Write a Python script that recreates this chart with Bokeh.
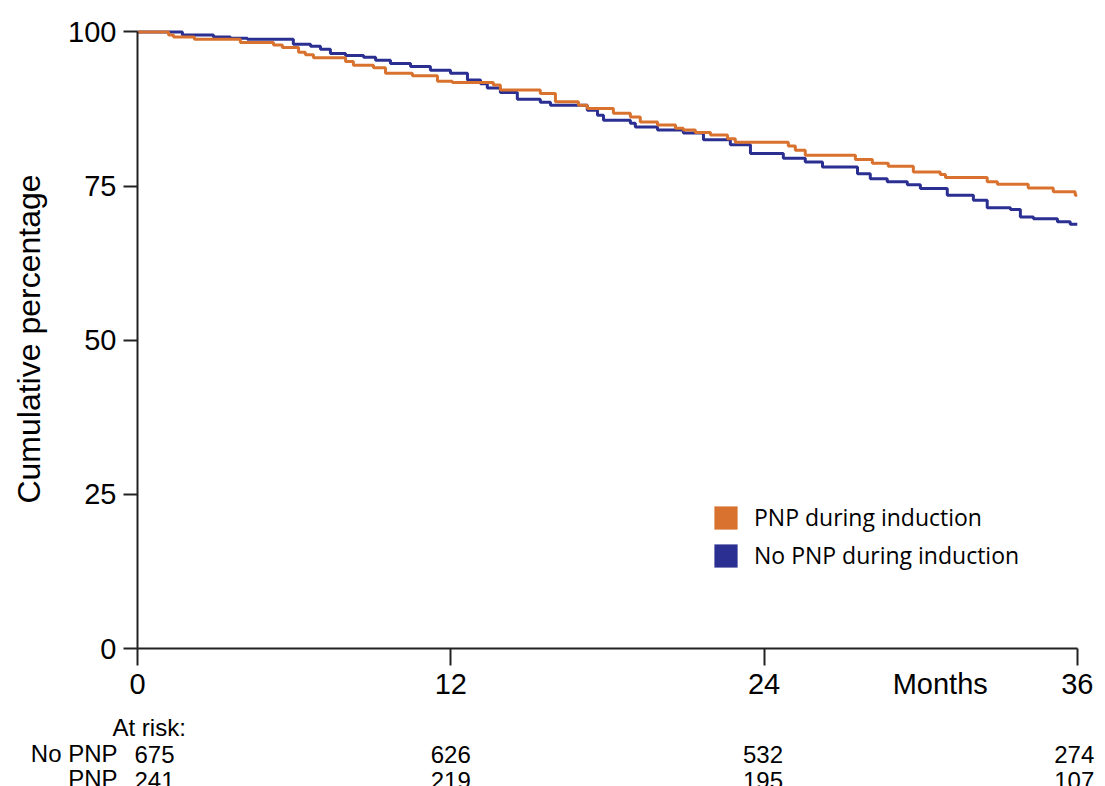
import numpy as np
from bokeh.plotting import figure
from bokeh.layouts import column
from bokeh.models import (Range1d, FixedTicker, Legend, LegendItem, ColumnDataSource)
from bokeh.core.properties import value
from bokeh.embed import file_html
from bokeh.resources import INLINE

# ---- data ----
pnp_months = [0, 1.19, 1.38, 2.18, 3.94, 5.21, 5.55, 6.17, 6.43, 6.74, 7.97, 8.27, 9.04, 9.50, 10.53,
              11.49, 12.06, 13.63, 13.90, 15.43, 16.01, 16.89, 17.23, 18.23, 18.88, 19.26, 19.92, 20.61,
              20.91, 21.37, 21.95, 22.60, 22.90, 24.93, 25.20, 25.58, 27.50, 28.15, 28.76, 29.72, 30.75,
              30.95, 32.55, 32.94, 34.12, 35.08, 35.92, 36]
pnp_pct = [100, 99.5, 99.2, 98.8, 98.3, 97.9, 97.5, 96.7, 96.3, 95.8, 95.2, 94.6, 94.2, 93.3, 92.9,
           92.0, 91.8, 91.4, 90.6, 90.0, 88.7, 88.1, 87.6, 86.8, 86.2, 85.4, 84.9, 84.4,
           84.1, 83.7, 83.3, 82.7, 82.1, 81.5, 80.8, 80.0, 79.3, 78.7, 78.2, 77.3, 76.9,
           76.4, 75.7, 75.3, 74.7, 74.1, 73.5, 73.5]

nopnp_months = [0, 1.72, 2.91, 3.56, 4.21, 5.97, 6.63, 7.01, 7.39, 7.97, 8.66, 9.12, 9.69, 10.46, 11.22,
                11.99, 12.64, 13.14, 13.40, 13.90, 14.55, 15.43, 15.82, 17.23, 17.62, 17.85, 18.88, 19.07,
                19.92, 20.91, 21.68, 22.71, 23.48, 24.74, 25.58, 26.24, 27.58, 28.07, 28.72, 29.49, 29.99,
                31.02, 32.02, 32.55, 33.44, 33.82, 34.32, 35.24, 35.73, 36]
nopnp_pct = [100, 99.5, 99.2, 99.0, 98.8, 98.0, 97.7, 97.2, 96.5, 96.2, 95.9, 95.4, 94.9, 94.4, 93.8,
             93.3, 92.2, 91.6, 90.9, 90.2, 89.1, 88.6, 88.1, 87.3, 86.5, 85.7, 85.2, 84.6,
             84.1, 83.6, 82.5, 81.7, 80.3, 79.5, 78.9, 78.1, 77.0, 76.2, 75.7, 75.2, 74.6,
             73.5, 72.7, 71.5, 71.2, 70.0, 69.7, 69.2, 68.8, 68.8]

x_ticks = [0, 12, 24, 36]
y_ticks = [0, 25, 50, 75, 100]
x_title = "Months"
x_title_pos = 30.75
risk_months = [0, 12, 24, 36]
risk_nopnp = [675, 626, 532, 274]
risk_pnp = [241, 219, 195, 107]
risk_title = "At risk:"
risk_rows = ["No PNP", "PNP"]

series_names = ["PNP during induction", "No PNP during induction"]
ORANGE = "#D9722E"
BLUE = "#2B2F92"
FONT = "Liberation Sans"
AXC = "#222222"

W = 1100
LEFT = 137
RIGHT = 18
X_END = 36.2
PX_PER_MONTH = (W - LEFT - RIGHT) / X_END
MAIN_H = 710
T_H = 786 - MAIN_H


def no_frame_align(fig):
    try:
        fig.frame_align = False
    except Exception:
        pass


# ---------------- main figure ----------------
p = figure(width=W, height=MAIN_H, output_backend="svg", toolbar_location=None,
           x_range=Range1d(0, X_END), y_range=Range1d(0, 100.4),
           min_border_left=LEFT, min_border_right=RIGHT, min_border_top=29,
           min_border_bottom=MAIN_H - 29 - 619)
p.outline_line_color = None
p.grid.visible = False
no_frame_align(p)

p.step(nopnp_months, nopnp_pct, mode="after", line_color=BLUE, line_width=3)
p.step(pnp_months, pnp_pct, mode="after", line_color=ORANGE, line_width=3)

for ax in (p.xaxis[0], p.yaxis[0]):
    ax.axis_line_color = AXC
    ax.axis_line_width = 2
    ax.major_tick_line_color = AXC
    ax.major_tick_line_width = 2
    ax.major_tick_in = 0
    ax.minor_tick_line_color = None
    ax.major_label_text_font = FONT
    ax.major_label_text_font_size = "29px"
    ax.major_label_text_color = "black"

# x axis: the visible tick marks are minor ticks at the month ticks; the labelled
# (major) ticks add the "Months" title without a tick mark of its own
lab_ticks = x_ticks[:3] + [x_title_pos] + x_ticks[3:]
p.xaxis.ticker = FixedTicker(ticks=lab_ticks, minor_ticks=x_ticks)
p.xaxis.major_label_overrides = {x_title_pos: x_title}
p.xaxis.bounds = (0, 36)
p.xaxis.major_tick_line_color = None
p.xaxis.major_tick_out = 17
p.xaxis.minor_tick_line_color = AXC
p.xaxis.minor_tick_line_width = 2
p.xaxis.minor_tick_out = 17
p.xaxis.minor_tick_in = 0
p.xaxis.major_label_standoff = 2

p.yaxis.ticker = FixedTicker(ticks=y_ticks)
p.yaxis.bounds = (0, 100)
p.yaxis.major_tick_out = 14
p.yaxis.major_label_standoff = 7
p.yaxis.axis_label = "Cumulative percentage"
p.yaxis.axis_label_text_font = FONT
p.yaxis.axis_label_text_font_size = "32px"
p.yaxis.axis_label_text_font_style = "normal"
p.yaxis.axis_label_text_color = "black"
p.yaxis.axis_label_standoff = 18

# legend with square swatches
sw_pnp = p.quad(left=np.array([np.nan]), right=np.array([np.nan]), top=np.array([np.nan]),
                bottom=np.array([np.nan]), fill_color=ORANGE, line_color=None)
sw_no = p.quad(left=np.array([np.nan]), right=np.array([np.nan]), top=np.array([np.nan]),
               bottom=np.array([np.nan]), fill_color=BLUE, line_color=None)
legend = Legend(items=[LegendItem(label=series_names[0], renderers=[sw_pnp]),
                       LegendItem(label=series_names[1], renderers=[sw_no])],
                location=(574, 77), glyph_width=29, glyph_height=29, spacing=6, padding=0, margin=0,
                label_standoff=14, label_text_font="Open Sans", label_text_font_size="23px",
                label_text_color="black", border_line_color=None, background_fill_alpha=0)
p.add_layout(legend, "center")

# ---------------- at-risk table ----------------
t = figure(width=W, height=T_H, output_backend="svg", toolbar_location=None,
           x_range=Range1d(-LEFT / PX_PER_MONTH, (W - LEFT) / PX_PER_MONTH),
           y_range=Range1d(T_H, 0), x_axis_type=None, y_axis_type=None,
           min_border_left=0, min_border_right=0, min_border_top=0, min_border_bottom=0)
t.title = None
t.outline_line_color = None
t.grid.visible = False
no_frame_align(t)

num_offsets = [17, 0, -1, -3]
nums = ColumnDataSource(dict(
    x=risk_months + risk_months,
    y=[44] * len(risk_months) + [70] * len(risk_months),
    text=[str(v) for v in risk_nopnp] + [str(v) for v in risk_pnp],
    xo=num_offsets + num_offsets,
))
t.text(x="x", y="y", text="text", x_offset="xo", source=nums, text_align="center",
       text_baseline="alphabetic", text_font=value(FONT), text_font_size="24px", text_color="black")

row_x = -20 / PX_PER_MONTH
t.text(x=[row_x, row_x], y=[43, 68], text=risk_rows, text_align="right", text_baseline="alphabetic",
       text_font=value(FONT), text_font_size="24px", text_color="black")
t.text(x=[-25 / PX_PER_MONTH], y=[17], text=[risk_title], text_align="left", text_baseline="alphabetic",
       text_font=value(FONT), text_font_size="24px", text_color="black")

layout = column(p, t, spacing=0)
open("out.html", "w").write(file_html(layout, INLINE))
